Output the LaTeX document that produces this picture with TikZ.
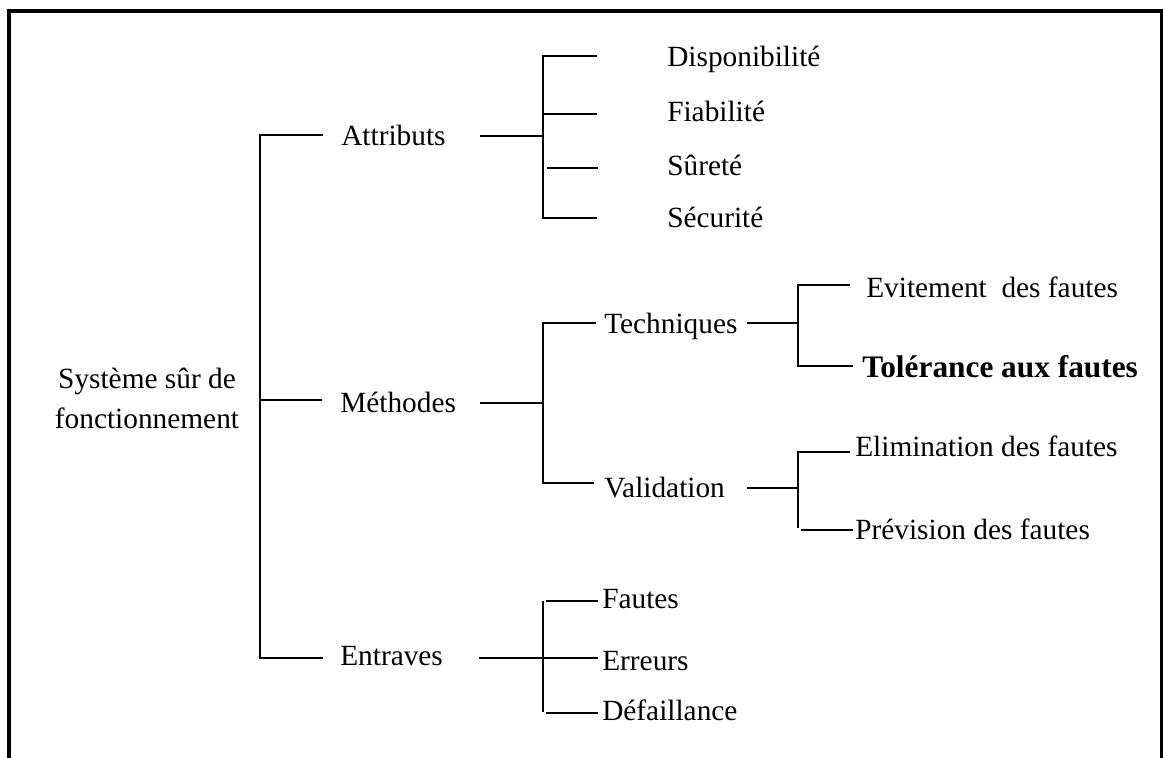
\documentclass[tikz,border=0pt]{standalone}
\usepackage{fontspec}
\setmainfont{Liberation Serif}
\begin{document}
\begin{tikzpicture}[x=0.75pt,y=-0.75pt,
  branch/.style={line width=2.1pt},
  frameline/.style={line width=2.8pt},
  lbl/.style={anchor=base west,inner sep=0pt,font=\fontsize{22pt}{30pt}\selectfont},
  boldlbl/.style={anchor=base west,inner sep=0pt,font=\fontsize{23.5pt}{30pt}\selectfont\bfseries},
]
\useasboundingbox (0,0) rectangle (1163,757);

% open frame (no bottom edge)
\draw[frameline] (9,770) -- (9,11) -- (1161.5,11) -- (1161.5,770);

% ---- labels ----
\node[anchor=center,inner sep=0pt,align=center,
      font=\fontsize{22pt}{30pt}\selectfont] (root) at (147,398)
      {Système sûr de\\fonctionnement};

\node[lbl] (attr) at (341,145) {Attributs};
\node[lbl] (meth) at (340,412) {Méthodes};
\node[lbl] (entr) at (340,665) {Entraves};

\node[lbl] (dispo) at (667,66)  {Disponibilité};
\node[lbl] (fiab)  at (667,121) {Fiabilité};
\node[lbl] (surete) at (667,175) {Sûreté};
\node[lbl] (secu)  at (667,227) {Sécurité};

\node[lbl] (tech) at (604,333) {Techniques};
\node[lbl] (valid) at (604,497) {Validation};

\node[lbl] (evit) at (866,297) {Evitement~ des fautes};
\node[boldlbl] (toler) at (862,377) {Tolérance aux fautes};
\node[lbl] (elim) at (855,456) {Elimination des fautes};
\node[lbl] (prev) at (855,539) {Prévision des fautes};

\node[lbl] (fautes) at (602,608) {Fautes};
\node[lbl] (erreurs) at (602,670) {Erreurs};
\node[lbl] (defail) at (602,720) {Défaillance};

% ---- junction points ----
\coordinate (trA) at (260,135);  \coordinate (trA2) at (323,135);
\coordinate (trM) at (260,400);  \coordinate (trM2) at (322,400);
\coordinate (trE) at (260,658);  \coordinate (trE2) at (323,658);

\coordinate (aS) at (480,136);   \coordinate (aJ) at (543,136);
\coordinate (a1) at (543,56);    \coordinate (a1e) at (597,56);
\coordinate (a2) at (543,114);   \coordinate (a2e) at (597,114);
\coordinate (a3) at (547,168);   \coordinate (a3e) at (598,168);
\coordinate (a4) at (543,218);   \coordinate (a4e) at (597,218);

\coordinate (mS) at (480,403);   \coordinate (mJ) at (543,403);
\coordinate (m1) at (543,323);   \coordinate (m1e) at (596,323);
\coordinate (m2) at (543,483);   \coordinate (m2e) at (594,483);

\coordinate (tS) at (747,323);   \coordinate (tJ) at (798,323);
\coordinate (t1) at (798,285);   \coordinate (t1e) at (850,285);
\coordinate (t2) at (798,366);   \coordinate (t2e) at (853,366);

\coordinate (vS) at (747,488);   \coordinate (vJ) at (798,488);
\coordinate (v1) at (798,452);   \coordinate (v1e) at (850,452);
\coordinate (v2) at (798,528);
\coordinate (v3) at (801,530);   \coordinate (v3e) at (853,530);

\coordinate (eS) at (479,658);   \coordinate (eJ) at (543,658);
\coordinate (eE) at (598,658);
\coordinate (e1v) at (543,601);  \coordinate (e3v) at (543,712);
\coordinate (e1) at (546,601);   \coordinate (e1e) at (598,601);
\coordinate (e3) at (546,713);   \coordinate (e3e) at (598,713);

% ---- trunk ----
\draw[branch] (trA2) -- (trA) -- (trE) -- (trE2);
\draw[branch] (trM) -- (trM2);

% ---- Attributs ----
\draw[branch] (aS) -- (aJ);
\draw[branch] (a1e) -- (a1) -- (a4) -- (a4e);
\draw[branch] (a2) -- (a2e);
\draw[branch] (a3) -- (a3e);

% ---- Méthodes ----
\draw[branch] (mS) -- (mJ);
\draw[branch] (m1e) -- (m1) -- (m2) -- (m2e);

\draw[branch] (tS) -- (tJ);
\draw[branch] (t1e) -- (t1) -- (t2) -- (t2e);

\draw[branch] (vS) -- (vJ);
\draw[branch] (v1e) -- (v1) -- (v2);
\draw[branch] (v3) -- (v3e);

% ---- Entraves ----
\draw[branch] (eS) -- (eE);
\draw[branch] (e1v) -- (e3v);
\draw[branch] (e1) -- (e1e);
\draw[branch] (e3) -- (e3e);
\end{tikzpicture}
\end{document}
